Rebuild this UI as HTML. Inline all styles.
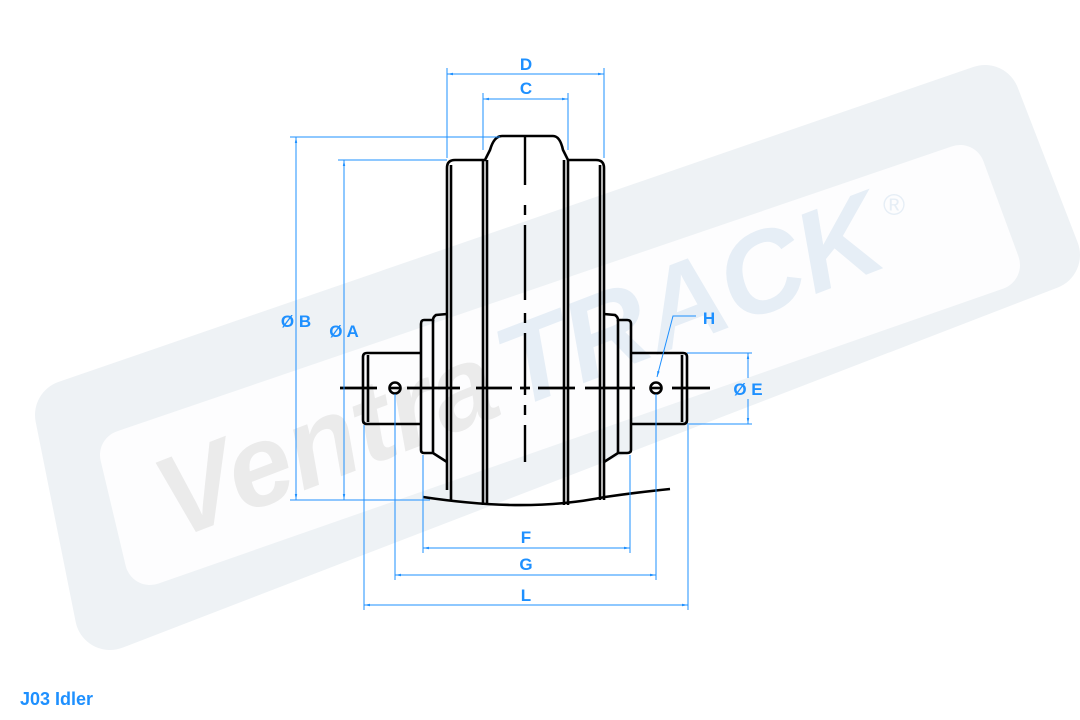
<!DOCTYPE html>
<html><head><meta charset="utf-8"><style>
html,body{margin:0;padding:0;background:#fff;width:1080px;height:720px;overflow:hidden}
svg{display:block}
.d{stroke:#1e90ff;stroke-width:1;fill:none}
.t{font-family:"Liberation Sans",sans-serif;font-weight:bold;font-size:17px;fill:#1e90ff}
.k{stroke:#000;stroke-width:2.6;fill:none}
</style></head><body>
<svg width="1080" height="720" viewBox="0 0 1080 720">
<defs>
<marker id="a" viewBox="0 0 10 10" refX="10" refY="5" markerWidth="6" markerHeight="6" orient="auto-start-reverse"><path d="M0,3L10,5L0,7z" fill="#1e90ff"/></marker>
</defs>
<!-- watermark -->
<path d="M70,415 L985,100 L1045,255 L110,615 Z" fill="#eef2f5" stroke="#eef2f5" stroke-width="70" stroke-linejoin="round"/>
<path d="M125,455 L960,170 L995,265 L150,560 Z" fill="#fdfdfe" stroke="#fdfdfe" stroke-width="50" stroke-linejoin="round"/>
<g transform="translate(175,540) rotate(-21)">
<text x="0" y="0" font-family="Liberation Sans,sans-serif" font-weight="bold" font-style="italic" font-size="115" fill="#ebebeb">Ventra</text>
<text x="365" y="0" font-family="Liberation Sans,sans-serif" font-weight="bold" font-style="italic" font-size="115" fill="#e6eef6">TRACK</text>
</g>
<text x="883" y="215" font-family="Liberation Sans,sans-serif" font-size="30" fill="#e6eef6">®</text>

<!-- drawing -->
<g class="k">
<path d="M447,490 V168 Q447,160 455,160 H485 L490,150 Q494,136 502,136 H553 Q560,136 563,150 L568,160 H596 Q604,160 604,168 V500"/>
<line x1="451" y1="165" x2="451" y2="500"/>
<line x1="600" y1="165" x2="600" y2="500"/>
<line x1="483" y1="160" x2="483" y2="505"/>
<line x1="487" y1="160" x2="487" y2="505"/>
<line x1="564" y1="160" x2="564" y2="505"/>
<line x1="568" y1="160" x2="568" y2="505"/>
<path d="M447,314 L436,315 Q433,317 433,320 H424 Q421,320 421,324 V450 Q421,453 424,453 H433 L447,462"/>
<line x1="433" y1="320" x2="433" y2="453"/>
<path d="M604,314 L615,315 Q618,317 618,320 H627 Q631,320 631,324 V450 Q631,453 627,453 H618 L604,462"/>
<line x1="618" y1="320" x2="618" y2="453"/>
<path d="M421,353 H367 Q363,353 363,357 V420 Q363,424 367,424 H421"/>
<line x1="368" y1="355" x2="368" y2="422"/>
<path d="M631,353 H683 Q687,353 687,357 V420 Q687,424 683,424 H631"/>
<line x1="682" y1="355" x2="682" y2="422"/>
<path d="M423,497 Q470,504 510,505 Q560,506 605,497 Q640,492 670,489"/>
<circle cx="395" cy="388" r="5.5"/>
<circle cx="656" cy="388" r="5.5"/>
<line x1="389" y1="388" x2="401" y2="388"/>
<line x1="650" y1="388" x2="662" y2="388"/>
<path d="M340,388 H377 M407,388 H460 M476,388 H512 M520,388 H530 M538,388 H575 M585,388 H635 M672,388 H710" stroke-width="2.8"/>
<path d="M525,137 V185 M525,205 V215 M525,225 V300 M525,313 V323 M525,333 V395 M525,405 V415 M525,425 V462" stroke-width="2.4"/>
</g>

<!-- dimensions -->
<g class="d">
<line x1="447" y1="68" x2="447" y2="158"/><line x1="604" y1="68" x2="604" y2="158"/>
<line x1="447" y1="74" x2="604" y2="74" marker-start="url(#a)" marker-end="url(#a)"/>
<line x1="483" y1="93" x2="483" y2="150"/><line x1="568" y1="93" x2="568" y2="150"/>
<line x1="483" y1="99" x2="568" y2="99" marker-start="url(#a)" marker-end="url(#a)"/>
<line x1="290" y1="137" x2="500" y2="137"/><line x1="338" y1="160" x2="447" y2="160"/>
<line x1="290" y1="500" x2="430" y2="500"/>
<line x1="296" y1="137" x2="296" y2="500" marker-start="url(#a)" marker-end="url(#a)"/>
<line x1="344" y1="160" x2="344" y2="500" marker-start="url(#a)" marker-end="url(#a)"/>
<line x1="423" y1="455" x2="423" y2="553"/><line x1="630" y1="455" x2="630" y2="553"/>
<line x1="423" y1="548" x2="630" y2="548" marker-start="url(#a)" marker-end="url(#a)"/>
<line x1="395" y1="394" x2="395" y2="580"/><line x1="656" y1="394" x2="656" y2="580"/>
<line x1="395" y1="575" x2="656" y2="575" marker-start="url(#a)" marker-end="url(#a)"/>
<line x1="364" y1="425" x2="364" y2="610"/><line x1="688" y1="425" x2="688" y2="610"/>
<line x1="364" y1="605" x2="688" y2="605" marker-start="url(#a)" marker-end="url(#a)"/>
<line x1="687" y1="353" x2="752" y2="353"/><line x1="687" y1="424" x2="752" y2="424"/>
<line x1="748" y1="353" x2="748" y2="378" marker-start="url(#a)"/>
<line x1="748" y1="399" x2="748" y2="424" marker-end="url(#a)"/>
<path d="M696,316 H673 L657,377" marker-end="url(#a)"/>
</g>
<g class="t" text-anchor="middle">
<text x="526" y="70">D</text>
<text x="526" y="94">C</text>
<text x="296" y="327">Ø B</text>
<text x="344" y="337">Ø A</text>
<text x="526" y="543">F</text>
<text x="526" y="570">G</text>
<text x="526" y="601">L</text>
<text x="709" y="324">H</text>
<text x="748" y="395">Ø E</text>
</g>
<text x="20" y="705" class="t" style="font-size:18px">J03 Idler</text>
</svg>
</body></html>
